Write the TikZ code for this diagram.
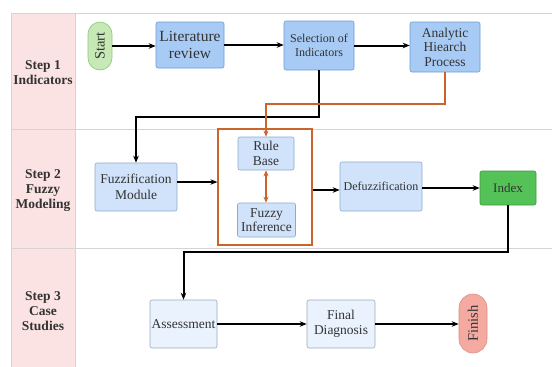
\documentclass[tikz,border=0pt]{standalone}
\usepackage{fontspec}
\setmainfont{Liberation Serif}
\usetikzlibrary{arrows.meta}
\definecolor{txt}{HTML}{333333}
\definecolor{grid}{HTML}{D4D4D4}
\definecolor{lanefill}{HTML}{FCE3E3}
\definecolor{startfill}{HTML}{C7E9B5}
\definecolor{startdraw}{HTML}{8CC67A}
\definecolor{bluefill}{HTML}{A8CBF5}
\definecolor{bluedraw}{HTML}{6D9AD0}
\definecolor{lbluefill}{HTML}{D0E3FA}
\definecolor{lbluedraw}{HTML}{8EAACB}
\definecolor{vlbluefill}{HTML}{E9F2FD}
\definecolor{vlbluedraw}{HTML}{9AAABB}
\definecolor{indexfill}{HTML}{55C257}
\definecolor{indexdraw}{HTML}{3C9A3E}
\definecolor{finishfill}{HTML}{F4A9A1}
\definecolor{finishdraw}{HTML}{DC8F88}
\definecolor{orng}{HTML}{C9652B}
\tikzset{
  box/.style={draw, rounded corners=2pt, line width=0.6pt, text=txt, align=center,
    inner sep=1pt, font=\fontsize{13.5}{15.5}\selectfont, anchor=center},
  bluebox/.style={box, fill=bluefill, draw=bluedraw},
  lbluebox/.style={box, fill=lbluefill, draw=lbluedraw},
  vlbluebox/.style={box, fill=vlbluefill, draw=vlbluedraw},
  pill/.style={box, rounded corners=12pt, rotate=90, font=\fontsize{14.5}{16}\selectfont},
  lanelabel/.style={text=txt, align=center, font=\bfseries\fontsize{13.5}{15}\selectfont},
  arr/.style={line width=2pt, -{Stealth[length=7pt,width=5.5pt]}},
  oarr/.style={line width=2pt, draw=orng, -{Stealth[length=6pt,width=5pt]}, color=orng},
  gridline/.style={draw=grid, line width=0.7pt}
}
\begin{document}
\begin{tikzpicture}[x=1pt,y=-1pt]
\useasboundingbox (0,0) rectangle (552,367);
% lanes
\fill[lanefill] (11,13) rectangle (75,367);
\draw[gridline] (11,13) -- (552,13);
\draw[gridline] (11,129) -- (552,129);
\draw[gridline] (11,248) -- (552,248);
\draw[gridline] (11,13) -- (11,367);
\draw[gridline] (75,13) -- (75,367);
\node[lanelabel] (l1) at (43,73) {Step 1\\Indicators};
\node[lanelabel] (l2) at (43,191) {Step 2\\Fuzzy\\Modeling};
\node[lanelabel] (l3) at (43,311) {Step 3\\Case\\Studies};
% orange group
\node[draw=orng, line width=1.2pt, minimum width=94pt, minimum height=116pt, anchor=center] (obox) at (265,187) {};
% nodes
\node[pill, fill=startfill, draw=startdraw, minimum width=48pt, minimum height=24pt] (start) at (100,46) {Start};
\node[bluebox, minimum width=68pt, minimum height=46pt, font=\fontsize{15.5}{17.5}\selectfont] (lit) at (190,45) {Literature\\review};
\node[bluebox, minimum width=70pt, minimum height=49pt, font=\fontsize{12}{14.5}\selectfont] (sel) at (319,45.5) {Selection of\\Indicators};
\node[bluebox, minimum width=70pt, minimum height=50pt, font=\fontsize{13.5}{14.5}\selectfont] (ahp) at (445,47) {Analytic\\Hiearch\\Process};
\node[lbluebox, minimum width=82pt, minimum height=48pt] (fuzz) at (136,187) {Fuzzification\\Module};
\node[lbluebox, minimum width=56pt, minimum height=33pt, font=\fontsize{13.5}{14.5}\selectfont] (rule) at (266,153.5) {Rule\\Base};
\node[lbluebox, minimum width=58pt, minimum height=34pt, font=\fontsize{13.5}{14.5}\selectfont] (inf) at (266.5,220) {Fuzzy\\Inference};
\node[lbluebox, minimum width=82pt, minimum height=49pt, font=\fontsize{12}{14}\selectfont] (defuzz) at (381,186.5) {Defuzzification};
\node[box, fill=indexfill, draw=indexdraw, minimum width=56pt, minimum height=34pt, font=\fontsize{13}{15}\selectfont] (index) at (508,188) {Index};
\node[vlbluebox, minimum width=67pt, minimum height=48pt] (assess) at (183.5,324) {Assessment};
\node[vlbluebox, minimum width=68pt, minimum height=48pt] (final) at (341,324) {Final\\Diagnosis};
\node[pill, fill=finishfill, draw=finishdraw, minimum width=59pt, minimum height=28pt, rounded corners=14pt] (finish) at (473,323.5) {Finish};
% connectors
\coordinate (c1) at (136,117);
\coordinate (c2) at (266,104);
\coordinate (c3) at (183.5,252);
\draw[arr] (start.south) -- (start.south -| lit.west);
\draw[arr] (lit.east) -- (lit.east -| sel.west);
\draw[arr] (sel.east) -- (sel.east -| ahp.west);
\draw[arr, rounded corners=0pt] (sel.south) |- (c1) -- (fuzz.north);
\draw[oarr] (ahp.south) |- (c2) -- (rule.north);
\draw[oarr, {Stealth[length=6pt,width=5pt]}-{Stealth[length=6pt,width=5pt]}] (rule.south) -- (rule.south |- inf.north);
\draw[arr] ([yshift=5pt]fuzz.east) -- ([yshift=5pt]fuzz.east -| obox.west);
\draw[arr] (obox.east |- 0,190) -- (defuzz.west |- 0,190);
\draw[arr] ([yshift=-1.5pt]defuzz.east) -- ([yshift=-1.5pt]defuzz.east -| index.west);
\draw[arr] (index.south) |- (c3) -- (assess.north);
\draw[arr] (assess.east) -- (final.west);
\draw[arr] (final.east) -- (final.east -| finish.north);
\end{tikzpicture}
\end{document}
